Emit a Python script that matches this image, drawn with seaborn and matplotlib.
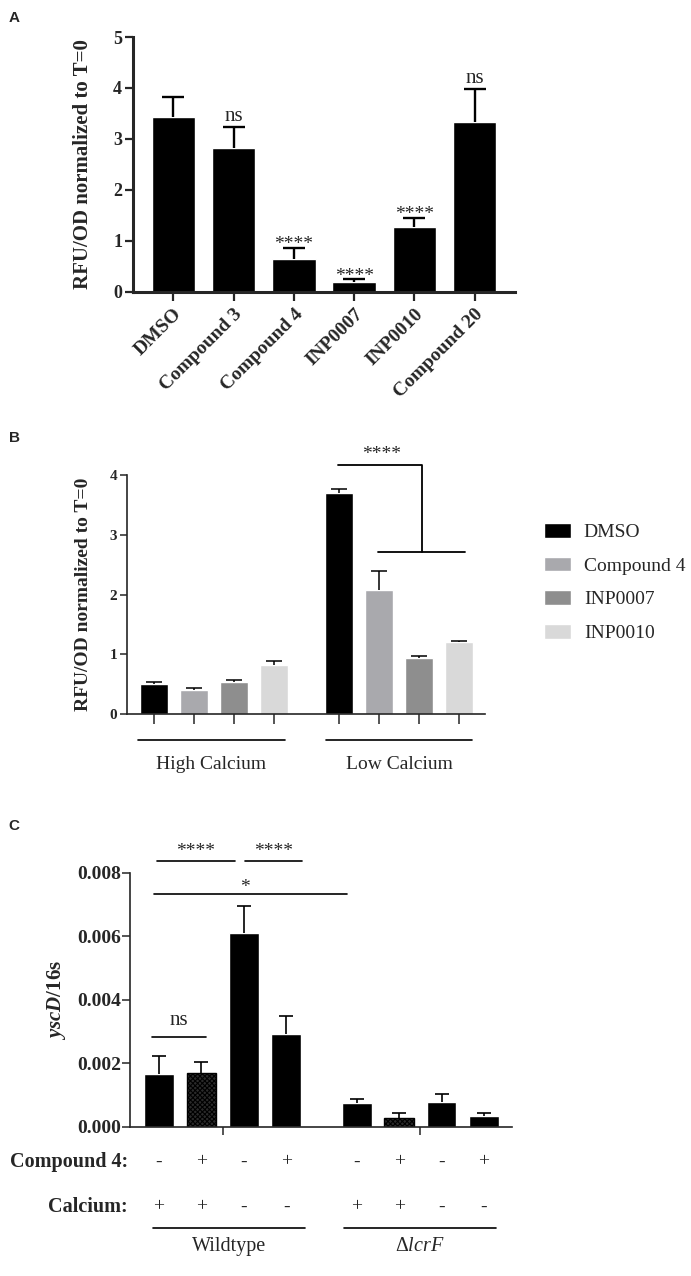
import numpy as np
import pandas as pd
import matplotlib
matplotlib.use("Agg")
import matplotlib.pyplot as plt
import seaborn as sns

# ---- data ----
# Panel A
a_labels = ["DMSO", "Compound 3", "Compound 4", "INP0007", "INP0010", "Compound 20"]
a_mean = [3.43, 2.83, 0.64, 0.20, 1.27, 3.33]
a_sem = [0.40, 0.40, 0.23, 0.05, 0.18, 0.65]
a_sig = ["", "ns", "****", "****", "****", "ns"]

# Panel B
b_compounds = ["DMSO", "Compound 4", "INP0007", "INP0010"]
b_groups = ["High Calcium", "Low Calcium"]
b_high_mean = [0.50, 0.41, 0.53, 0.815]
b_high_sem = [0.03, 0.025, 0.04, 0.075]
b_low_mean = [3.70, 2.08, 0.94, 1.20]
b_low_sem = [0.07, 0.32, 0.03, 0.03]
b_colors = ["#000000", "#a9a9ad", "#8e8e8e", "#d9d9d9"]

# Panel C
c_groups = ["Wildtype", "$\\Delta\\mathit{lcrF}$"]
c_compound = ["-", "+", "-", "+", "-", "+", "-", "+"]
c_calcium = ["+", "+", "-", "-", "+", "+", "-", "-"]
c_mean = [0.00166, 0.00169, 0.00612, 0.00292, 0.000746, 0.000294, 0.00079, 0.00035]
c_sem = [0.00058, 0.00034, 0.00085, 0.00057, 0.00013, 0.00016, 0.00026, 0.00010]

sns.set_style("ticks")
plt.rcParams["font.family"] = ["Liberation Serif", "DejaVu Serif"]
plt.rcParams["mathtext.fontset"] = "custom"
plt.rcParams["mathtext.rm"] = "Liberation Serif"
plt.rcParams["mathtext.it"] = "Liberation Serif:italic"
plt.rcParams["mathtext.bf"] = "Liberation Serif:bold"
plt.rcParams["mathtext.bfit"] = "Liberation Serif:italic:bold"
plt.rcParams["hatch.color"] = "black"
plt.rcParams["hatch.linewidth"] = 0.8

fig = plt.figure(figsize=(6.91, 12.76), dpi=100)
axA = fig.add_axes([0.1925, 0.7712, 0.5528, 0.1998])
axB = fig.add_axes([0.1838, 0.4404, 0.5181, 0.1873])
axC = fig.add_axes([0.1881, 0.1168, 0.5528, 0.1991])

letter_font = dict(family="Liberation Sans", fontweight="bold", fontsize=11)
fig.text(14 / 691, 1 - 18 / 1276, "A", ha="center", va="center", **letter_font)
fig.text(14 / 691, 1 - 438 / 1276, "B", ha="center", va="center", **letter_font)
fig.text(14 / 691, 1 - 826 / 1276, "C", ha="center", va="center", **letter_font)


def upper_errors(ax, x, mean, sem, lw, cap):
    """Upper-only error bars: hide the lower cap that errorbar draws at the mean."""
    _, caps, _ = ax.errorbar(x, mean, yerr=[np.zeros(len(x)), sem], fmt="none",
                             ecolor="black", elinewidth=lw, capsize=cap, capthick=lw)
    caps[0].set_visible(False)


# ---------------- Panel A ----------------
dfA = pd.DataFrame({"label": a_labels, "mean": a_mean})
sns.barplot(data=dfA, x="label", y="mean", color="black", width=0.72,
            errorbar=None, ax=axA, saturation=1)
xa = np.arange(len(a_labels))
upper_errors(axA, xa, a_mean, a_sem, 1.7, 8)
for x, m, s, lab in zip(xa, a_mean, a_sem, a_sig):
    if lab == "ns":
        axA.annotate(lab, (x, m + s), xytext=(0, 4.5), textcoords="offset points",
                     ha="center", va="baseline", fontsize=15, annotation_clip=False)
    elif lab:
        axA.annotate(lab, (x, m + s), xytext=(0, -1), textcoords="offset points",
                     ha="center", va="baseline", fontsize=14, annotation_clip=False)
axA.set_xlim(-0.67, 5.67)
axA.set_ylim(0, 5)
axA.set_yticks([0, 1, 2, 3, 4, 5])
axA.set_xlabel("")
axA.set_ylabel("RFU/OD normalized to T=0", fontsize=15, fontweight="bold")
axA.yaxis.set_label_coords(-0.105, 0.5)
axA.set_xticks(xa)
axA.set_xticklabels(a_labels, rotation=45, ha="right", rotation_mode="anchor",
                    fontweight="bold", fontsize=14)
axA.tick_params(axis="y", labelsize=13, width=1.6, length=5.8, pad=2)
axA.tick_params(axis="x", width=1.6, length=6.5, pad=3)
for t in axA.get_yticklabels():
    t.set_fontweight("bold")
for sp in ["left", "bottom"]:
    axA.spines[sp].set_linewidth(2.2)
sns.despine(ax=axA)

# ---------------- Panel B ----------------
gapB = 0.64
posB = [i for i in range(4)] + [4 + gapB + i for i in range(4)]
dfB = pd.DataFrame({
    "pos": posB,
    "mean": b_high_mean + b_low_mean,
    "compound": b_compounds * 2,
})
semB = b_high_sem + b_low_sem
sns.barplot(data=dfB, x="pos", y="mean", hue="compound", hue_order=b_compounds,
            palette=dict(zip(b_compounds, b_colors)), native_scale=True,
            dodge=False, width=0.7, errorbar=None, saturation=1, ax=axB)
upper_errors(axB, posB, dfB["mean"].to_numpy(), semB, 1.1, 5.5)
axB.set_xlim(-0.675, 7.64 + 0.65)
axB.set_ylim(0, 4)
axB.set_yticks([0, 1, 2, 3, 4])
axB.set_xticks(posB)
axB.set_xticklabels([])
axB.set_xlabel("")
axB.set_ylabel("RFU/OD normalized to T=0", fontsize=14, fontweight="bold")
axB.yaxis.set_label_coords(-0.098, 0.5)
axB.tick_params(axis="y", labelsize=11, width=1.1, length=5, pad=2)
axB.tick_params(axis="x", width=1.1, length=7)
for t in axB.get_yticklabels():
    t.set_fontweight("bold")
for sp in ["left", "bottom"]:
    axB.spines[sp].set_linewidth(1.2)
sns.despine(ax=axB)

# significance bracket
axB.plot([4.6, 6.7, 6.7], [4.17, 4.17, 2.71], color="black", lw=1.3, clip_on=False)
axB.plot([5.6, 7.8], [2.71, 2.71], color="black", lw=1.3, clip_on=False)
axB.annotate("****", (5.7, 4.17), xytext=(0, 4), textcoords="offset points",
             ha="center", va="baseline", fontsize=14, annotation_clip=False)

# group lines and labels
trB = axB.get_xaxis_transform()
for g, (x0, x1) in enumerate([(-0.4, 3.28), (4.3, 7.97)]):
    axB.plot([x0, x1], [-0.109, -0.109], color="black", lw=1.2,
             transform=trB, clip_on=False)
    axB.text((x0 + x1) / 2, -0.21, b_groups[g], transform=trB,
             ha="center", va="center", fontsize=14)

sns.move_legend(axB, "upper left", bbox_to_anchor=(544 / 691, 1 - 523 / 1276),
                bbox_transform=fig.transFigure, frameon=False, title=None,
                fontsize=14, handlelength=1.4, handleheight=0.78,
                handletextpad=0.65, labelspacing=0.8, borderpad=0,
                borderaxespad=0)

# ---------------- Panel C ----------------
gapC = 0.667
posC = [i for i in range(4)] + [4 + gapC + i for i in range(4)]
dfC = pd.DataFrame({"pos": posC, "mean": c_mean})
sns.barplot(data=dfC, x="pos", y="mean", color="black", native_scale=True,
            width=0.7, errorbar=None, saturation=1, ax=axC)
for i, bar in enumerate(axC.patches):
    if i in (1, 5):
        bar.set_facecolor("#2b2b2b")
        bar.set_edgecolor("black")
        bar.set_hatch("xxxxxxx")
upper_errors(axC, posC, c_mean, c_sem, 1.2, 5)
axC.set_xlim(-0.685, posC[-1] + 0.66)
axC.set_ylim(0, 0.008)
axC.set_yticks([0, 0.002, 0.004, 0.006, 0.008])
axC.set_yticklabels(["0.000", "0.002", "0.004", "0.006", "0.008"])
axC.set_xticks([np.mean(posC[:4]), np.mean(posC[4:])])
axC.set_xticklabels([])
axC.set_xlabel("")
axC.set_ylabel("$\\mathbfit{yscD}$/16s", fontsize=15, fontweight="bold")
axC.yaxis.set_label_coords(-0.162, 0.5)
axC.tick_params(axis="y", labelsize=14, width=1.1, length=5.5, pad=1)
axC.tick_params(axis="x", width=1.1, length=6)
for t in axC.get_yticklabels():
    t.set_fontweight("bold")
for sp in ["left", "bottom"]:
    axC.spines[sp].set_linewidth(1.2)
sns.despine(ax=axC)


def bracket(ax, x0, x1, y, label, dy, xt=None, size=14):
    ax.plot([x0, x1], [y, y], color="black", lw=1.2, clip_on=False)
    if xt is None:
        xt = (x0 + x1) / 2
    ax.annotate(label, (xt, y), xytext=(0, dy), textcoords="offset points",
                ha="center", va="baseline", fontsize=size, annotation_clip=False)


bracket(axC, -0.05, 1.79, 0.00838, "****", 3.2)
bracket(axC, 2.03, 3.37, 0.00838, "****", 3.2)
bracket(axC, -0.12, 4.43, 0.00734, "*", 1.5, xt=2.03)
bracket(axC, -0.17, 1.11, 0.00283, "ns", 9, size=15)

trC = axC.get_xaxis_transform()
axC.text(-0.006, -0.138, "Compound 4:", transform=axC.transAxes, ha="right",
         va="center", fontsize=14.5, fontweight="bold")
axC.text(-0.006, -0.315, "Calcium:", transform=axC.transAxes, ha="right",
         va="center", fontsize=14.5, fontweight="bold")
for x, s1, s2 in zip(posC, c_compound, c_calcium):
    axC.text(x, -0.138, s1, transform=trC, ha="center", va="center", fontsize=14)
    axC.text(x, -0.315, s2, transform=trC, ha="center", va="center", fontsize=14)
for g, (x0, x1) in enumerate([(-0.15, 3.44), (4.36, 7.95)]):
    axC.plot([x0, x1], [-0.398, -0.398], color="black", lw=1.2,
             transform=trC, clip_on=False)
    axC.text((x0 + x1) / 2, -0.472, c_groups[g], transform=trC,
             ha="center", va="center", fontsize=14.5)

fig.savefig("out.png", dpi=100)
